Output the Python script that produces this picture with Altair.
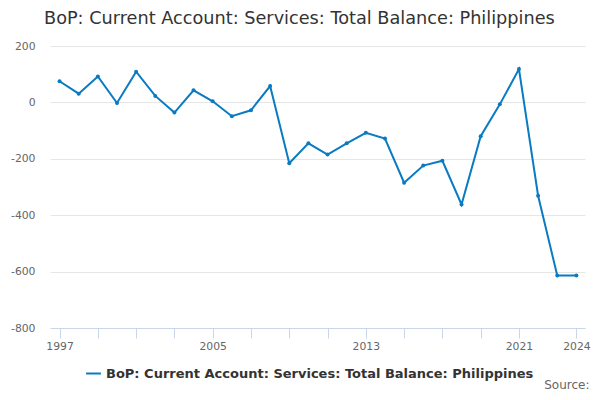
import altair as alt
import pandas as pd

years = list(range(1997, 2025))
values = [75, 31, 92, -2, 109, 23, -36, 43, 4, -49, -28, 58, -216, -145, -185, -145,
          -108, -128, -285, -224, -207, -362, -120, -7, 118, -331, -614, -614]
series_name = "BoP: Current Account: Services: Total Balance: Philippines"
x_ticks = list(range(1997, 2022, 2)) + [2024]
x_labels = [1997, 2005, 2013, 2021, 2024]
y_ticks = [-800, -600, -400, -200, 0, 200]

df = pd.DataFrame({"year": years, "value": values, "series": series_name})

FONT = "DejaVu Sans"
COLOR = "#0a7bc2"

label_test = " || ".join(f"datum.value == {v}" for v in x_labels)

chart = alt.Chart(df).mark_line(
    color=COLOR, strokeWidth=2, point=alt.OverlayMarkDef(color=COLOR, size=16, filled=True)
).encode(
    x=alt.X("year:Q",
            scale=alt.Scale(domain=[1996.5, 2024.45], nice=False, zero=False),
            axis=alt.Axis(values=x_ticks, format="d", grid=False,
                          labelExpr=f"({label_test}) ? datum.label : ''",
                          domainColor="#ccd6eb", tickColor="#ccd6eb", tickSize=10,
                          labelColor="#666666", labelFontSize=10.8, labelFont=FONT,
                          labelPadding=2, labelOverlap=False, labelBound=False,
                          labelFlush=False,
                          title="Source:", titleAnchor="end", titleAlign="right",
                          titleBaseline="alphabetic",
                          titleX=539, titleY=60, titleFont=FONT, titleFontSize=12,
                          titleFontWeight="normal", titleColor="#666666")),
    y=alt.Y("value:Q",
            scale=alt.Scale(domain=[-800, 200], nice=False),
            axis=alt.Axis(values=y_ticks, title=None, domain=False, ticks=False,
                          labelExpr="datum.value + ''",
                          gridColor="#e6e6e6", labelColor="#666666", labelFontSize=10.8,
                          labelFont=FONT, labelPadding=15)),
    color=alt.Color("series:N",
                    scale=alt.Scale(range=[COLOR]),
                    legend=alt.Legend(title=None, orient="none", legendX=35, legendY=319,
                                      symbolType="stroke", symbolSize=220, symbolStrokeWidth=2,
                                      labelFont=FONT, labelFontSize=13, labelFontWeight="bold",
                                      labelColor="#333333", labelLimit=600)),
).properties(
    width=535,
    height=282,
    padding={"left": 42, "top": 38, "right": 6, "bottom": 64},
    autosize=alt.AutoSizeParams(type="none"),
    title=alt.TitleParams(series_name, anchor="start", frame="group", dx=-6, offset=12,
                          font=FONT, fontSize=17.7, fontWeight="normal", color="#333333"),
).configure_view(stroke=None)

chart.save("out.html", embed_options={"renderer": "svg", "actions": False})
